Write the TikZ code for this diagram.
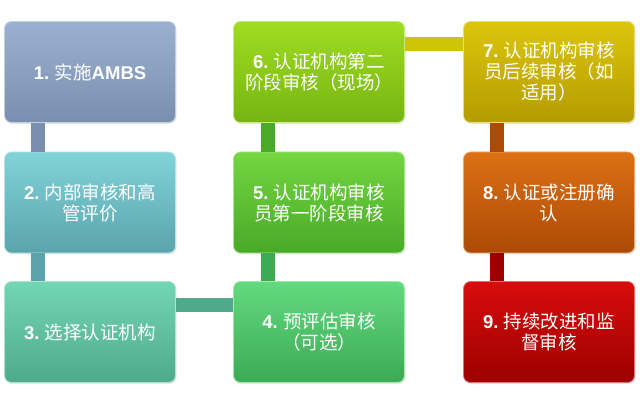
\documentclass[tikz,border=0pt]{standalone}
\usepackage{fontspec}
\setmainfont{Liberation Sans}
\newfontfamily\cjk{Noto Sans CJK SC}
\newfontfamily\latinfont{Liberation Sans}
\usepackage{tikz}
\usetikzlibrary{calc,shadows}
\newcommand\lat[1]{{\latinfont\bfseries #1}}

\definecolor{topA}{HTML}{9CB1CF}\definecolor{botA}{HTML}{7A8FAE}
\definecolor{topB}{HTML}{82D3D9}\definecolor{botB}{HTML}{5AA4AD}
\definecolor{topC}{HTML}{72D6B3}\definecolor{botC}{HTML}{4FAA8C}
\definecolor{topD}{HTML}{62DA7E}\definecolor{botD}{HTML}{3DAA55}
\definecolor{topE}{HTML}{74D640}\definecolor{botE}{HTML}{48AA28}
\definecolor{topF}{HTML}{A0DC22}\definecolor{botF}{HTML}{76B512}
\definecolor{topG}{HTML}{DCC60C}\definecolor{botG}{HTML}{B59C00}
\definecolor{topH}{HTML}{DC7014}\definecolor{botH}{HTML}{AC4A06}
\definecolor{topI}{HTML}{D80C0C}\definecolor{botI}{HTML}{9C0000}
\definecolor{linkFG}{HTML}{CCC404}

\begin{document}
\begin{tikzpicture}[x=1pt, y=1pt,
  box/.style 2 args={rounded corners=7pt, minimum width=171pt, minimum height=101pt,
    align=center, text=white, font=\cjk\fontsize{18.5}{21}\selectfont,
    top color=#1, bottom color=#2, draw=#1!60!white, line width=0.8pt,
    drop shadow={opacity=0.2, shadow xshift=1pt, shadow yshift=-1.5pt}},
  link/.style={line width=14pt}]
\useasboundingbox (0,0) rectangle (640,404);

\node[box={topA}{botA}] (b1) at (90,332) {\lat{1.} 实施\lat{AMBS}};
\node[box={topB}{botB}] (b2) at (90,201.5) {\lat{2.} 内部审核和高\\管评价};
\node[box={topC}{botC}] (b3) at (90,72) {\lat{3.} 选择认证机构};
\node[box={topD}{botD}] (b4) at (319,72) {\lat{4.} 预评估审核\\（可选）};
\node[box={topE}{botE}] (b5) at (319,201.5) {\lat{5.} 认证机构审核\\员第一阶段审核};
\node[box={topF}{botF}] (b6) at (319,332) {\lat{6.} 认证机构第二\\阶段审核（现场）};
\node[box={topG}{botG}] (b7) at (549,332) {\lat{7.} 认证机构审核\\员后续审核（如\\适用）};
\node[box={topH}{botH}] (b8) at (549,201.5) {\lat{8.} 认证或注册确\\认};
\node[box={topI}{botI}] (b9) at (549,72) {\lat{9.} 持续改进和监\\督审核};

\draw[link, botA] ([xshift=34pt]b1.south west) -- ([xshift=34pt]b2.north west);
\draw[link, botB] ([xshift=34pt]b2.south west) -- ([xshift=34pt]b3.north west);
\draw[link, botC] ([yshift=27pt]b3.east) -- ([yshift=27pt]b4.west);
\draw[link, botD] ([xshift=35pt]b4.north west) -- ([xshift=35pt]b5.south west);
\draw[link, botE] ([xshift=35pt]b5.north west) -- ([xshift=35pt]b6.south west);
\draw[link, linkFG] ([yshift=28pt]b6.east) -- ([yshift=28pt]b7.west);
\draw[link, botH] ([xshift=34pt]b7.south west) -- ([xshift=34pt]b8.north west);
\draw[link, botI] ([xshift=34pt]b8.south west) -- ([xshift=34pt]b9.north west);
\end{tikzpicture}
\end{document}
